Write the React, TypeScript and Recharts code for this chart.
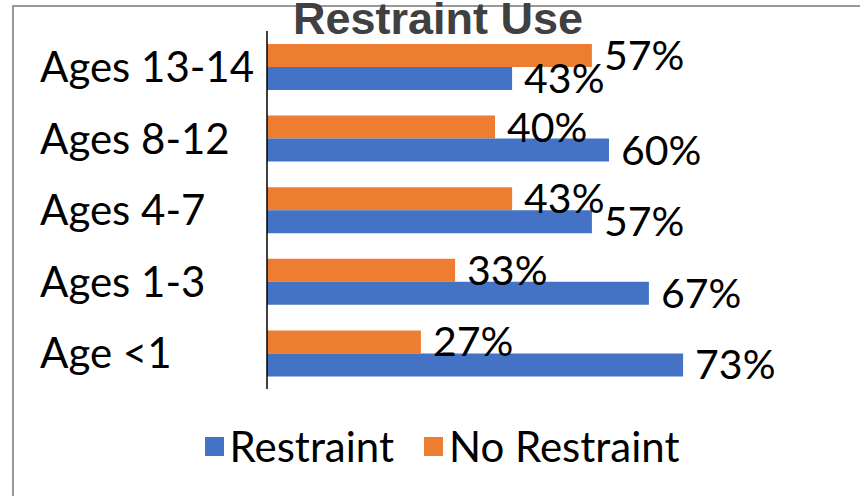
import React from 'react';
import { BarChart, Bar, XAxis, YAxis, LabelList, Legend } from 'recharts';

const categories = ['Ages 13-14', 'Ages 8-12', 'Ages 4-7', 'Ages 1-3', 'Age <1'];
const restraint = [43, 60, 57, 67, 73];
const noRestraint = [57, 40, 43, 33, 27];
const seriesNames = ['Restraint', 'No Restraint'];
const seriesColors = ['#4472C4', '#ED7D31'];
const chartTitle = 'Restraint Use';

const data = categories.map((name, i) => ({
  name,
  restraint: restraint[i],
  noRestraint: noRestraint[i],
}));

const FONT = 'Lato, "Open Sans", sans-serif';

const renderLegend = () => (
  <div
    style={{
      display: 'flex',
      justifyContent: 'center',
      alignItems: 'center',
      fontFamily: FONT,
      fontSize: 42,
      color: '#000',
      lineHeight: 1,
      paddingLeft: 24,
    }}
  >
    {seriesNames.map((n, i) => (
      <span
        key={n}
        style={{ display: 'inline-flex', alignItems: 'center', marginRight: i === 0 ? 30 : 0 }}
      >
        <span
          style={{
            display: 'inline-block',
            width: 19,
            height: 19,
            background: seriesColors[i],
            marginRight: 6,
          }}
        />
        {n}
      </span>
    ))}
  </div>
);

const LeftTick = (props: any) => {
  const { y, payload } = props;
  return (
    <text x={40} y={y} dy="0.36em" textAnchor="start" fontSize={42} fill="#000" fontFamily={FONT}>
      {payload.value}
    </text>
  );
};

export default function App() {
  return (
    <div
      style={{
        position: 'absolute',
        left: 0,
        top: 0,
        width: 860,
        height: 496,
        overflow: 'hidden',
        background: '#fff',
      }}
    >
      <div
        style={{
          position: 'absolute',
          left: 12,
          top: 5,
          width: 848,
          height: 2,
          background: '#999',
        }}
      />
      <div
        style={{
          position: 'absolute',
          left: 12,
          top: 5,
          width: 2,
          height: 491,
          background: '#999',
        }}
      />
      <div style={{ position: 'absolute', left: 0, top: 0 }}>
        <BarChart
          width={860}
          height={496}
          data={data}
          layout="vertical"
          margin={{ top: 31, right: 23, bottom: 107, left: 0 }}
          barGap={0}
          barSize={23}
          style={{ fontFamily: FONT }}
        >
          <XAxis type="number" domain={[0, 100]} hide />
          <YAxis
            type="category"
            dataKey="name"
            width={267}
            tickSize={0}
            tickMargin={15}
            axisLine={{ stroke: '#000', strokeWidth: 1.5 }}
            tickLine={false}
            tick={<LeftTick />}
            interval={0}
          />
          <Legend
            layout="horizontal"
            verticalAlign="middle"
            align="center"
            content={renderLegend}
            wrapperStyle={{ top: 425, left: 0, width: 860 }}
          />
          <Bar dataKey="noRestraint" name={seriesNames[1]} fill={seriesColors[1]} isAnimationActive={false}>
            <LabelList
              dataKey="noRestraint"
              position="right"
              offset={12}
              formatter={(v: number) => `${v}%`}
              style={{ fontSize: 41, fill: '#000', fontFamily: FONT }}
            />
          </Bar>
          <Bar dataKey="restraint" name={seriesNames[0]} fill={seriesColors[0]} isAnimationActive={false}>
            <LabelList
              dataKey="restraint"
              position="right"
              offset={12}
              formatter={(v: number) => `${v}%`}
              style={{ fontSize: 41, fill: '#000', fontFamily: FONT }}
            />
          </Bar>
        </BarChart>
      </div>
      <div
        style={{
          position: 'absolute',
          left: 293,
          top: -4,
          fontFamily: '"Liberation Sans", Arial, sans-serif',
          fontWeight: 'bold',
          fontSize: 45,
          lineHeight: 1,
          color: '#404040',
          whiteSpace: 'nowrap',
        }}
      >
        {chartTitle}
      </div>
    </div>
  );
}
